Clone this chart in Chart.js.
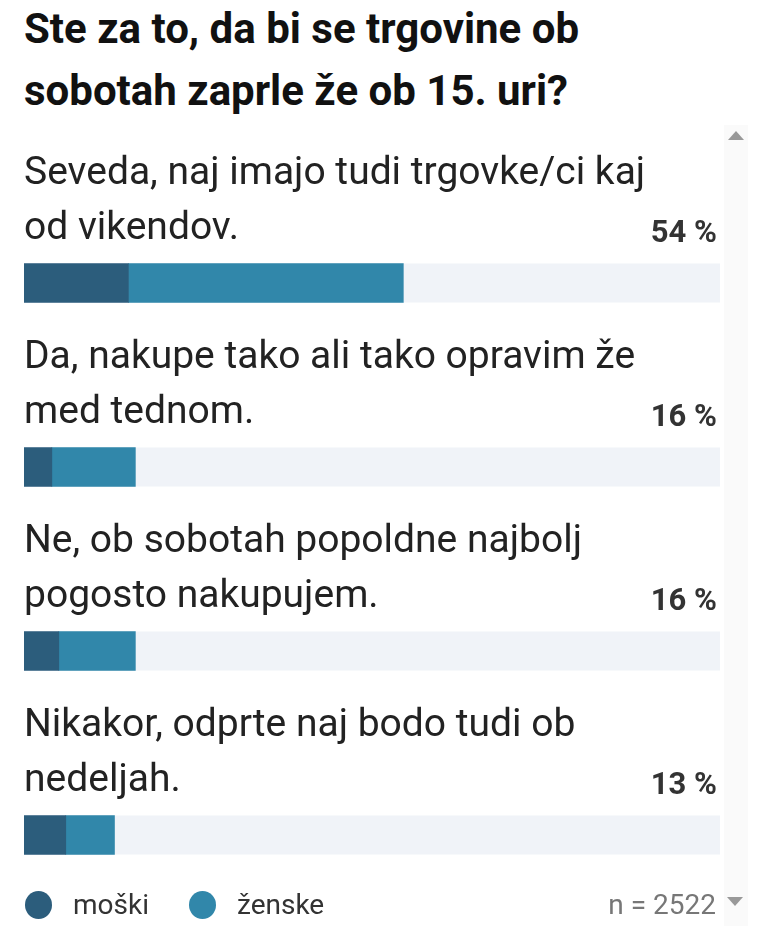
<!DOCTYPE html>
<html>
<head>
<meta charset="utf-8">
<script src="https://cdn.jsdelivr.net/npm/chart.js@4"></script>
<style>
    body { margin: 0; background: #fff; width: 768px; height: 926px; overflow: hidden; position: relative; font-family: Roboto, sans-serif; }
    #title { position: absolute; left: 24px; top: -2px; font-weight: bold; font-size: 42px; line-height: 62px; color: #111; white-space: nowrap; }
    #scrollTrack { position: absolute; left: 724px; top: 125px; width: 24px; height: 801px; background: #fafafa; }
    .tri { position: absolute; width: 0; height: 0; border-left: 8px solid transparent; border-right: 8px solid transparent; }
    #triUp { left: 728px; top: 131px; border-bottom: 9px solid #999; }
    #triDown { left: 727px; top: 897px; border-top: 9px solid #999; }
    #chartWrap { position: absolute; left: 0; top: 130px; width: 768px; height: 797px; }
    #legend { position: absolute; left: 25px; top: 888px; font-size: 28px; line-height: 34px; color: #333; white-space: nowrap; display: flex; align-items: center; }
    #legend span.dot { display: inline-block; width: 27px; height: 28px; border-radius: 50%; margin-right: 21px; }
    #legend span.item { display: flex; align-items: center; margin-right: 40px; }
    #nCount { position: absolute; right: 52px; top: 888px; font-size: 28px; line-height: 34px; color: #777; }
</style>
</head>
<body>
<div id="scrollTrack"></div>
<div id="title">Ste za to, da bi se trgovine ob<br>sobotah zaprle že ob 15. uri?</div>
<div class="tri" id="triUp"></div>
<div id="chartWrap"><canvas id="pollChart"></canvas></div>
<div id="legend"></div>
<div id="nCount">n = 2522</div>
<div class="tri" id="triDown"></div>
<script>
// Poll answers (each split in two lines as in the widget)
const answers = [
    ['Seveda, naj imajo tudi trgovke/ci kaj', 'od vikendov.'],
    ['Da, nakupe tako ali tako opravim že', 'med tednom.'],
    ['Ne, ob sobotah popoldne najbolj', 'pogosto nakupujem.'],
    ['Nikakor, odprte naj bodo tudi ob', 'nedeljah.']
];

// Share of all votes, in percent
const men = [15, 4, 5, 6];
const women = [39.5, 12, 11, 7];
// Rounded totals as printed next to each answer
const totals = [54, 16, 16, 13];

const seriesNames = ['moški', 'ženske'];
const seriesColors = ['#2c5d7c', '#3187aa'];
const trackColor = '#f0f3f8';

// Draws the light grey 0-100 track behind each bar
const trackPlugin = {
    id: 'track',
    beforeDatasetsDraw(chart) {
        const { ctx, scales: { x } } = chart;
        const bars = chart.getDatasetMeta(0).data;
        ctx.save();
        ctx.fillStyle = trackColor;
        bars.forEach(bar => {
            const h = bar.height;
            ctx.fillRect(x.getPixelForValue(0), bar.y - h / 2, x.getPixelForValue(100) - x.getPixelForValue(0), h);
        });
        ctx.restore();
    }
};

// Question text and total percentage above each bar
const labelPlugin = {
    id: 'answerLabels',
    afterDatasetsDraw(chart) {
        const { ctx, scales: { x } } = chart;
        const bars = chart.getDatasetMeta(0).data;
        ctx.save();
        bars.forEach((bar, i) => {
            const top = bar.y - bar.height / 2;
            ctx.font = '39px Roboto';
            ctx.fillStyle = '#222';
            ctx.textAlign = 'left';
            ctx.textBaseline = 'alphabetic';
            ctx.fillText(answers[i][0], x.getPixelForValue(0), top - 80);
            ctx.fillText(answers[i][1], x.getPixelForValue(0), top - 25);

            ctx.font = 'bold 31px Roboto';
            ctx.fillStyle = '#333';
            ctx.textAlign = 'right';
            ctx.fillText(totals[i] + ' %', x.getPixelForValue(100) - 3, top - 22);
        });
        ctx.restore();
    }
};

const ctx = document.getElementById('pollChart').getContext('2d');
new Chart(ctx, {
    type: 'bar',
    data: {
        labels: answers.map(a => a.join(' ')),
        datasets: seriesNames.map((name, k) => ({
            label: name,
            data: k === 0 ? men : women,
            backgroundColor: seriesColors[k],
            borderWidth: 0,
            barThickness: 39
        }))
    },
    options: {
        indexAxis: 'y',
        responsive: true,
        maintainAspectRatio: false,
        animation: false,
        layout: { padding: { left: 24, right: 48, top: 61, bottom: 0 } },
        scales: {
            x: { stacked: true, min: 0, max: 100, display: false },
            y: { stacked: true, display: false }
        },
        plugins: {
            legend: { display: false },
            tooltip: { enabled: false }
        }
    },
    plugins: [trackPlugin, labelPlugin]
});

// Legend under the chart
document.getElementById('legend').innerHTML = seriesNames.map((name, k) =>
    `<span class="item"><span class="dot" style="background:${seriesColors[k]}"></span>${name}</span>`
).join('');
</script>
</body>
</html>
